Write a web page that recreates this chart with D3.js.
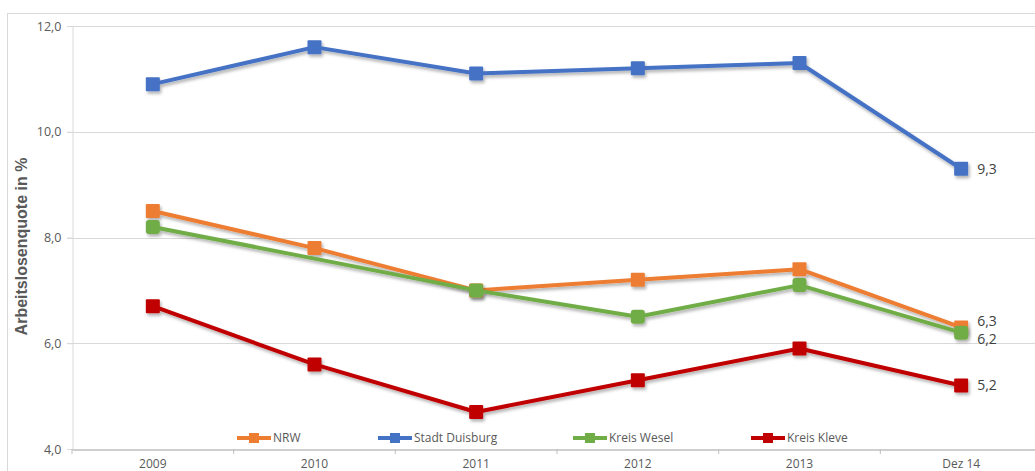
<!DOCTYPE html>
<html>
<head>
<meta charset="utf-8">
<script src="https://cdn.jsdelivr.net/npm/d3@7"></script>
<style>
  body { margin: 0; background: #fff; }
  text { font-family: "Open Sans", "Liberation Sans", sans-serif; }
</style>
</head>
<body>
<div id="chart"></div>
<script>
// --- Data ---
const categories = ["2009", "2010", "2011", "2012", "2013", "Dez 14"];
const yTicks = [4, 6, 8, 10, 12];

const nrw = [8.5, 7.8, 7.0, 7.2, 7.4, 6.3];
const duisburg = [10.9, 11.6, 11.1, 11.2, 11.3, 9.3];
const wesel = [8.2, 7.6, 7.0, 6.5, 7.1, 6.2];
const kleve = [6.7, 5.6, 4.7, 5.3, 5.9, 5.2];

const seriesNames = ["NRW", "Stadt Duisburg", "Kreis Wesel", "Kreis Kleve"];
const seriesValues = [nrw, duisburg, wesel, kleve];
const seriesColors = ["#ED7D31", "#4472C4", "#70AD47", "#C00000"];
// points that show no marker in the original (series index -> category index)
const hiddenMarkers = [[2, 1]];
// last values get a data label
const endLabels = ["6,3", "9,3", "6,2", "5,2"];

// --- Rendering ---
const width = 1035, height = 471;
const margin = { top: 26, right: -7, bottom: 22, left: 72 };

const svg = d3.select("#chart").append("svg")
    .attr("width", width)
    .attr("height", height);

const defs = svg.append("defs");
defs.append("filter")
    .attr("id", "shadow")
    .attr("x", "-20%").attr("y", "-20%")
    .attr("width", "140%").attr("height", "160%")
    .append("feDropShadow")
    .attr("dx", 1.5).attr("dy", 2.5)
    .attr("stdDeviation", 1.6)
    .attr("flood-color", "#000")
    .attr("flood-opacity", 0.3);

// chart frame
svg.append("rect")
    .attr("x", 7.5).attr("y", 13.5)
    .attr("width", 1040).attr("height", 480)
    .attr("fill", "none")
    .attr("stroke", "#d9d9d9");

const x = d3.scaleBand()
    .domain(categories)
    .range([margin.left, width - margin.right]);

const y = d3.scaleLinear()
    .domain([4, 12])
    .range([height - margin.bottom, margin.top]);

// gridlines
svg.append("g")
    .selectAll("line")
    .data(yTicks.filter(t => t !== 4))
    .join("line")
    .attr("x1", margin.left - 5)
    .attr("x2", width)
    .attr("y1", d => Math.round(y(d)) + 0.5)
    .attr("y2", d => Math.round(y(d)) + 0.5)
    .attr("stroke", "#d9d9d9");

// y axis
const yAxis = svg.append("g")
    .attr("transform", `translate(${margin.left + 0.5},0)`)
    .call(d3.axisLeft(y).tickValues(yTicks).tickSize(5).tickPadding(6)
        .tickFormat(d => d3.format(".1f")(d).replace(".", ",")));
yAxis.select(".domain").attr("stroke", "#d9d9d9");
yAxis.selectAll(".tick line").attr("stroke", "#d9d9d9");
yAxis.selectAll("text").attr("fill", "#595959").style("font-size", "12.5px");

// x axis
const xAxis = svg.append("g")
    .attr("transform", `translate(0,${Math.round(y(4)) + 0.5})`)
    .call(d3.axisBottom(x).tickSize(0).tickPadding(10));
xAxis.select(".domain").attr("stroke", "#bfbfbf").attr("stroke-width", 1.5);
xAxis.selectAll("text").attr("fill", "#595959").style("font-size", "12px");
svg.append("g")
    .selectAll("line")
    .data(categories.concat([null]))
    .join("line")
    .attr("x1", (d, i) => margin.left + i * x.bandwidth())
    .attr("x2", (d, i) => margin.left + i * x.bandwidth())
    .attr("y1", y(4))
    .attr("y2", y(4) + 5)
    .attr("stroke", "#bfbfbf");

// y title
svg.append("text")
    .attr("transform", `translate(27,${(y(4) + y(12)) / 2 + 9}) rotate(-90)`)
    .attr("text-anchor", "middle")
    .attr("fill", "#595959")
    .style("font-family", "Liberation Sans, Arial, sans-serif")
    .style("font-size", "16px")
    .style("font-weight", "bold")
    .text("Arbeitslosenquote in %");

const cx = c => x(c) + x.bandwidth() / 2;
const line = d3.line()
    .x((d, i) => cx(categories[i]))
    .y(d => y(d));

// draw order: Duisburg, NRW, Wesel, Kleve (green over orange)
const order = [1, 0, 2, 3];
order.forEach(s => {
    const g = svg.append("g").attr("filter", "url(#shadow)");
    g.append("path")
        .datum(seriesValues[s])
        .attr("fill", "none")
        .attr("stroke", seriesColors[s])
        .attr("stroke-width", 4)
        .attr("stroke-linejoin", "round")
        .attr("d", line);
    g.selectAll("rect")
        .data(seriesValues[s].map((v, i) => ({ v, i }))
            .filter(d => !hiddenMarkers.some(h => h[0] === s && h[1] === d.i)))
        .join("rect")
        .attr("x", d => cx(categories[d.i]) - 7)
        .attr("y", d => y(d.v) - 7)
        .attr("width", 14)
        .attr("height", 14)
        .attr("rx", s === 2 ? 3 : 1)
        .attr("fill", seriesColors[s]);
});

// end labels (6,3 and 6,2 pushed apart like in the original)
const labelOffsets = [-6, 0, 6, 0];
seriesValues.forEach((vals, s) => {
    svg.append("text")
        .attr("x", cx(categories[categories.length - 1]) + 16)
        .attr("y", y(vals[vals.length - 1]) + labelOffsets[s])
        .attr("dy", "0.35em")
        .attr("fill", "#404040")
        .style("font-size", "14px")
        .text(endLabels[s]);
});

// legend
const legendX = [254, 395, 590, 768];
const legend = svg.append("g").attr("transform", `translate(0,438)`);
seriesNames.forEach((name, i) => {
    const g = legend.append("g").attr("transform", `translate(${legendX[i]},0)`);
    g.append("line")
        .attr("x1", -17).attr("x2", 17)
        .attr("stroke", seriesColors[i])
        .attr("stroke-width", 4);
    g.append("rect")
        .attr("x", -5).attr("y", -5)
        .attr("width", 10).attr("height", 10)
        .attr("fill", seriesColors[i]);
    g.append("text")
        .attr("x", 19)
        .attr("dy", "0.35em")
        .attr("fill", "#595959")
        .style("font-size", "12px")
        .text(name);
});
</script>
</body>
</html>
